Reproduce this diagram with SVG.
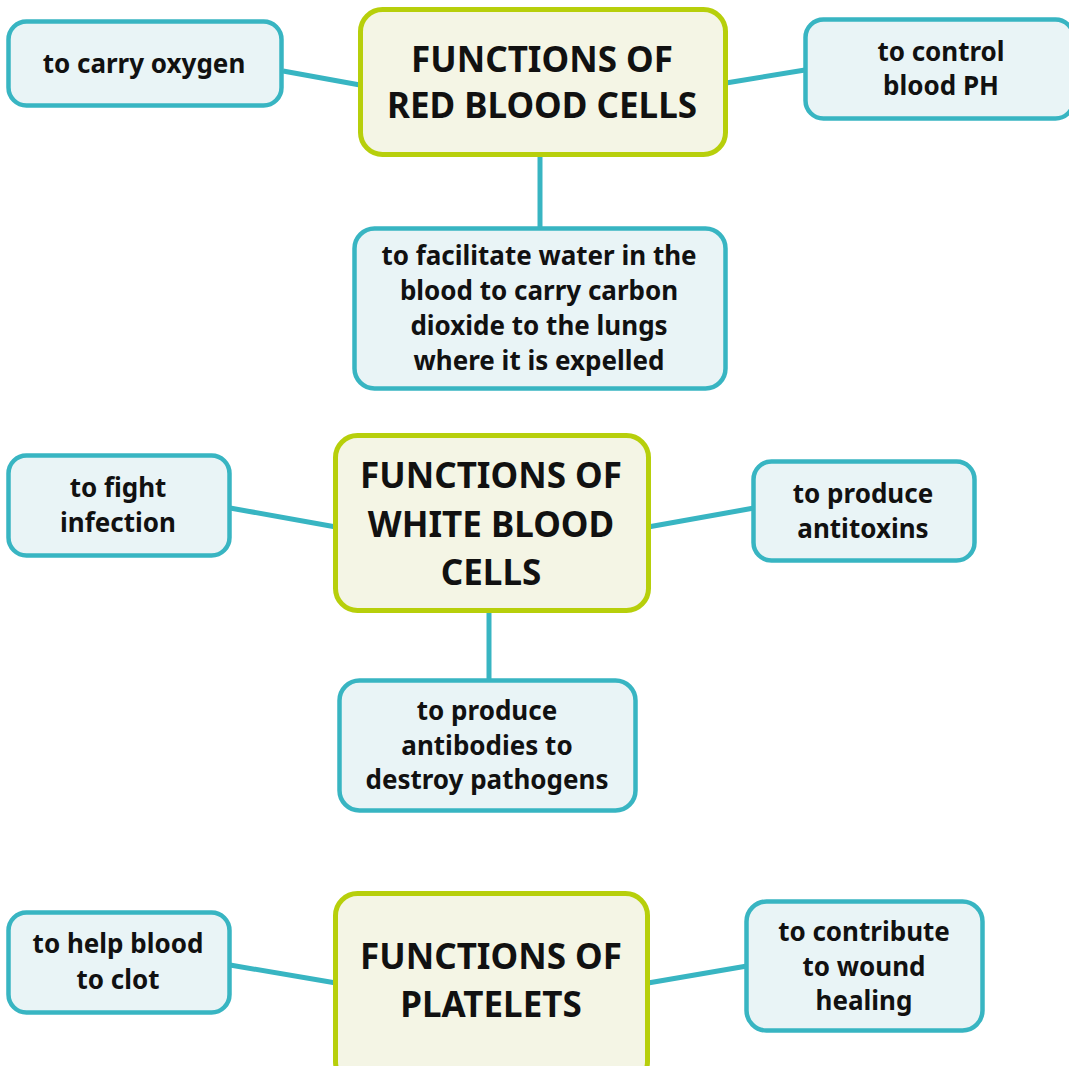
<svg xmlns="http://www.w3.org/2000/svg" width="1069" height="1066" viewBox="0 0 1069 1066">
  <style>
    .leaf rect { fill: #e9f4f6; stroke: #38b5c2; stroke-width: 4.5; }
    .hub rect { fill: #f4f5e5; stroke: #b7cf0b; stroke-width: 5; }
    .leaf text { font-family: "Noto Sans", "Open Sans", sans-serif; font-weight: 700; font-size: 26px; fill: #111; text-anchor: middle; }
    .hub text { font-family: "Noto Sans", "Open Sans", sans-serif; font-weight: 700; font-size: 35px; fill: #111; text-anchor: middle; }
    .links line { stroke: #38b5c2; stroke-width: 5; stroke-linecap: butt; }
  </style>
  <rect width="1069" height="1066" fill="#ffffff"/>

  <!-- connectors -->
  <g id="connectors" class="links">
    <line x1="283" y1="71" x2="360" y2="85"/>
    <line x1="726" y1="83" x2="805" y2="70"/>
    <line x1="540" y1="155" x2="540" y2="229"/>
    <line x1="230" y1="508" x2="336" y2="527"/>
    <line x1="648" y1="527" x2="754" y2="508"/>
    <line x1="489" y1="611" x2="489" y2="681"/>
    <line x1="230" y1="965" x2="336" y2="983"/>
    <line x1="648" y1="983" x2="747" y2="966"/>
  </g>

  <!-- red blood cells -->
  <g id="hub-red" class="hub">
    <rect x="360.5" y="9.5" width="365" height="145" rx="22"/>
    <text x="542" y="72">FUNCTIONS OF</text>
    <text x="542" y="118">RED BLOOD CELLS</text>
  </g>
  <g id="leaf-oxygen" class="leaf">
    <rect x="8.5" y="21.5" width="273" height="84" rx="18"/>
    <text x="144" y="73">to carry oxygen</text>
  </g>
  <g id="leaf-ph" class="leaf">
    <rect x="805.5" y="19.5" width="268" height="99" rx="18"/>
    <text x="941" y="61">to control</text>
    <text x="941" y="95">blood PH</text>
  </g>
  <g id="leaf-co2" class="leaf">
    <rect x="354.5" y="228.5" width="371" height="160" rx="20"/>
    <text x="539" y="265">to facilitate water in the</text>
    <text x="539" y="300">blood to carry carbon</text>
    <text x="539" y="335">dioxide to the lungs</text>
    <text x="539" y="370">where it is expelled</text>
  </g>

  <!-- white blood cells -->
  <g id="hub-white" class="hub">
    <rect x="335.5" y="435.5" width="313" height="175" rx="22"/>
    <text x="491" y="488">FUNCTIONS OF</text>
    <text x="491" y="537">WHITE BLOOD</text>
    <text x="491" y="585">CELLS</text>
  </g>
  <g id="leaf-infection" class="leaf">
    <rect x="8.5" y="455.5" width="221" height="100" rx="18"/>
    <text x="118" y="497">to fight</text>
    <text x="118" y="532">infection</text>
  </g>
  <g id="leaf-antitoxins" class="leaf">
    <rect x="753.5" y="461.5" width="221" height="99" rx="18"/>
    <text x="863" y="503">to produce</text>
    <text x="863" y="538">antitoxins</text>
  </g>
  <g id="leaf-antibodies" class="leaf">
    <rect x="339.5" y="680.5" width="296" height="130" rx="20"/>
    <text x="487" y="720">to produce</text>
    <text x="487" y="755">antibodies to</text>
    <text x="487" y="789">destroy pathogens</text>
  </g>

  <!-- platelets -->
  <g id="hub-platelets" class="hub">
    <rect x="335.5" y="893.5" width="312" height="190" rx="22"/>
    <text x="491" y="969">FUNCTIONS OF</text>
    <text x="491" y="1017">PLATELETS</text>
  </g>
  <g id="leaf-clot" class="leaf">
    <rect x="8.5" y="912.5" width="221" height="100" rx="18"/>
    <text x="118" y="953">to help blood</text>
    <text x="118" y="989">to clot</text>
  </g>
  <g id="leaf-healing" class="leaf">
    <rect x="746.5" y="901.5" width="236" height="129" rx="20"/>
    <text x="864" y="941">to contribute</text>
    <text x="864" y="976">to wound</text>
    <text x="864" y="1010">healing</text>
  </g>
</svg>
